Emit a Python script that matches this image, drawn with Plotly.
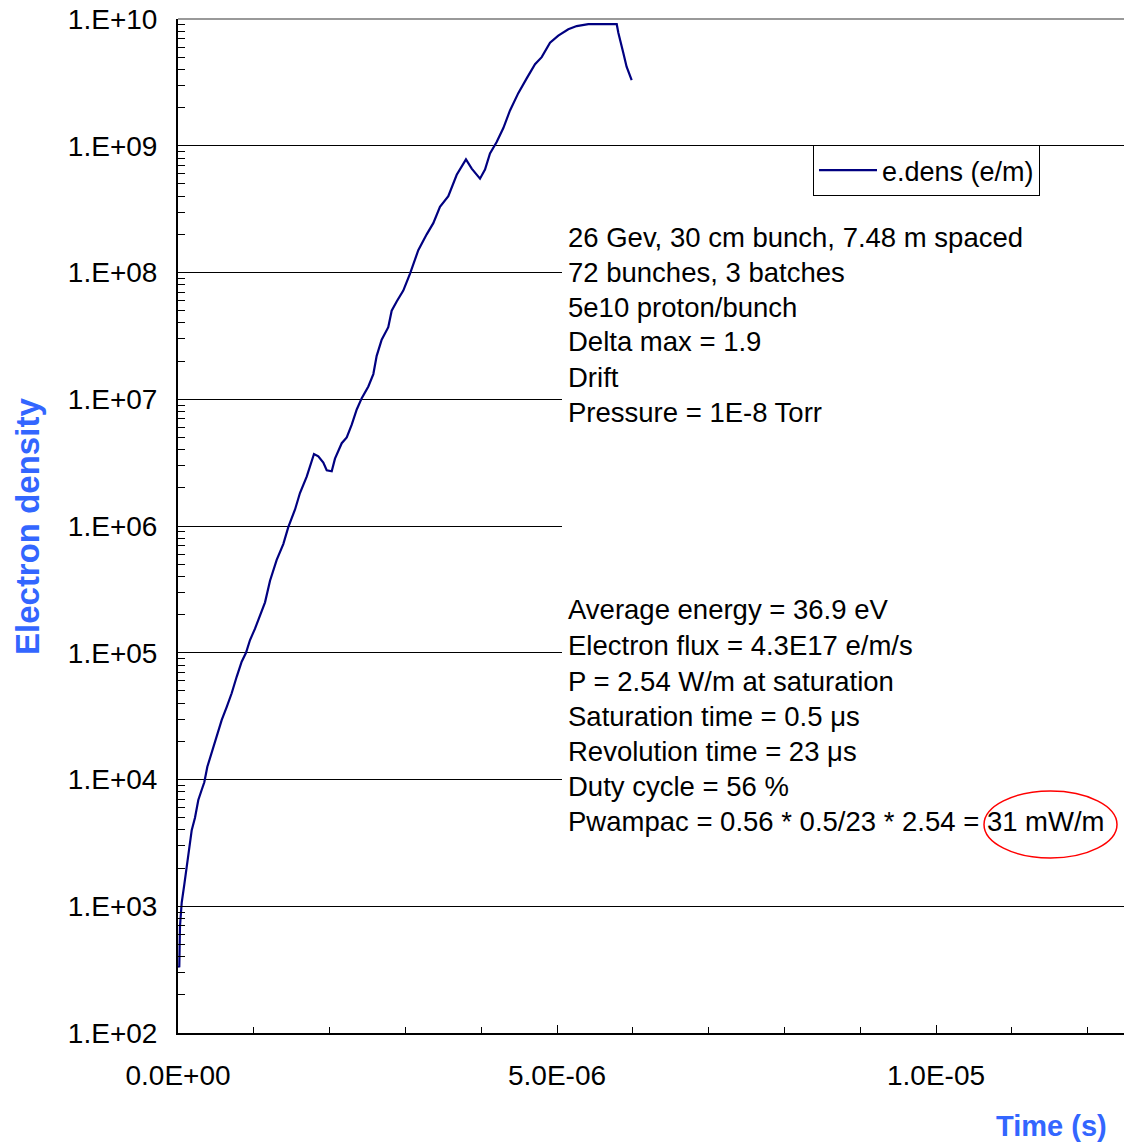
import plotly.graph_objects as go

# ---- data ----
time_us = [0.005, 0.017, 0.026, 0.049, 0.083, 0.115, 0.149, 0.181, 0.224, 0.268, 0.313, 0.347,
           0.387, 0.445, 0.511, 0.577, 0.642, 0.708, 0.774, 0.840, 0.897, 0.950, 1.016,
           1.082, 1.148, 1.214, 1.302, 1.389, 1.455, 1.544, 1.609, 1.698, 1.741, 1.794,
           1.851, 1.917, 1.962, 2.028, 2.071, 2.160, 2.226, 2.292, 2.358, 2.424, 2.511,
           2.577, 2.621, 2.687, 2.774, 2.819, 2.885, 2.972, 3.061, 3.170, 3.281, 3.368,
           3.456, 3.566, 3.677, 3.743, 3.799, 3.875, 3.984, 4.050, 4.116, 4.204, 4.292,
           4.380, 4.489, 4.600, 4.710, 4.798, 4.908, 5.017, 5.149, 5.260, 5.413, 5.788,
           5.809, 5.875, 5.918, 5.985]
e_density = [340, 331, 692, 1.07e3, 1.48e3, 2.0e3, 2.75e3, 3.98e3, 5.0e3, 6.9e3, 8.3e3, 9.5e3,
             1.26e4, 1.62e4, 2.19e4, 2.95e4, 3.72e4, 4.79e4, 6.46e4, 8.5e4, 1.0e5, 1.26e5, 1.55e5,
             2.0e5, 2.5e5, 3.7e5, 5.4e5, 7.2e5, 9.8e5, 1.35e6, 1.82e6, 2.45e6, 2.95e6, 3.7e6,
             3.55e6, 3.16e6, 2.75e6, 2.7e6, 3.4e6, 4.5e6, 5.0e6, 6.3e6, 8.3e6, 1.02e7, 1.26e7,
             1.58e7, 2.2e7, 2.95e7, 3.7e7, 5.0e7, 5.9e7, 7.2e7, 9.8e7, 1.5e8, 2.0e8, 2.45e8,
             3.3e8, 4.0e8, 5.9e8, 6.8e8, 7.8e8, 6.6e8, 5.5e8, 6.5e8, 8.7e8, 1.07e9, 1.38e9,
             1.9e9, 2.6e9, 3.4e9, 4.4e9, 5.0e9, 6.5e9, 7.4e9, 8.3e9, 8.8e9, 9.1e9, 9.1e9,
             7.8e9, 5.4e9, 4.2e9, 3.3e9]
time_s = [t * 1e-6 for t in time_us]

series_name = "e.dens (e/m)"
y_tickvals = [1e2, 1e3, 1e4, 1e5, 1e6, 1e7, 1e8, 1e9, 1e10]
y_ticktext = ["1.E+02", "1.E+03", "1.E+04", "1.E+05", "1.E+06", "1.E+07", "1.E+08", "1.E+09", "1.E+10"]
x_tickvals = [0, 5e-6, 1e-5]
x_ticktext = ["0.0E+00", "5.0E-06", "1.0E-05"]

info_top = ["26 Gev, 30 cm bunch, 7.48 m spaced", "72 bunches, 3 batches", "5e10 proton/bunch",
            "Delta max = 1.9", "Drift", "Pressure = 1E-8 Torr"]
info_bottom = ["Average energy = 36.9 eV", "Electron flux = 4.3E17 e/m/s",
               "P = 2.54 W/m at saturation", "Saturation time = 0.5 μs",
               "Revolution time = 23 μs", "Duty cycle = 56 %",
               "Pwampac = 0.56 * 0.5/23 * 2.54 = 31 mW/m"]

# ---- layout geometry (page pixels; body margin removed by post_script) ----
W, H = 1124, 1143
L, R, T = 178, 0, 19
B = H - 1033
PW, PH = W - L - R, H - T - B

def px(x):
    return (x - L) / PW

def py(y):
    return (H - B - y) / PH

FONT = "Arial, Liberation Sans, sans-serif"
BLUE = "#3366FF"

fig = go.Figure()
fig.add_trace(go.Scatter(x=time_s, y=e_density, mode="lines", name=series_name,
                         line=dict(color="#000080", width=2.2)))

minor_y = [m * 10 ** e for e in range(2, 10) for m in range(2, 10)]

fig.update_layout(
    width=W, height=H,
    margin=dict(l=L, r=R, t=T, b=B, autoexpand=False),
    paper_bgcolor="white", plot_bgcolor="white",
    font=dict(family=FONT, size=27, color="black"),
    showlegend=True,
    legend=dict(x=px(813), y=py(145), xanchor="left", yanchor="top",
                bgcolor="white", bordercolor="black", borderwidth=1,
                font=dict(size=27), itemwidth=58),
    xaxis=dict(range=[0, 12.48e-6], showline=True, linecolor="black", linewidth=2,
               showgrid=False, zeroline=False, automargin=False,
               tickmode="array", tickvals=x_tickvals, ticktext=x_ticktext,
               ticks="inside", ticklen=8, tickcolor="black", tickwidth=1,
               tickfont=dict(size=28), ticklabelstandoff=16,
               minor=dict(tickmode="linear", tick0=0, dtick=1e-6, ticks="inside",
                          ticklen=6, tickcolor="black", showgrid=False)),
    yaxis=dict(type="log", range=[2, 10], showline=True, linecolor="black", linewidth=2,
               showgrid=True, gridcolor="black", gridwidth=1, zeroline=False, automargin=False,
               tickmode="array", tickvals=y_tickvals, ticktext=y_ticktext,
               ticks="inside", ticklen=8, tickcolor="black", tickwidth=1,
               tickfont=dict(size=28), ticklabelstandoff=13,
               ticklabeloverflow="allow",
               minor=dict(tickmode="array", tickvals=minor_y, ticks="inside",
                          ticklen=7, tickcolor="black", showgrid=False)),
)

shapes = [
    # white text panel hiding gridlines (trace never enters this area)
    dict(type="rect", xref="paper", yref="paper", x0=px(562), x1=1.0, y0=py(875), y1=py(200),
         fillcolor="white", line=dict(width=0), layer="above"),
    # grey top frame line
    dict(type="line", xref="paper", yref="paper", x0=0, x1=1, y0=1, y1=1,
         line=dict(color="#999999", width=2), layer="above"),
    # red ellipse
    dict(type="circle", xref="paper", yref="paper", x0=px(984), x1=px(1117),
         y0=py(858), y1=py(791), line=dict(color="#FF0000", width=1.5), layer="above"),
]
fig.update_layout(shapes=shapes)

annotations = []
top_y = [237, 272, 307, 342, 377, 412]
for txt, yy in zip(info_top, top_y):
    annotations.append(dict(text=txt, xref="paper", yref="paper", x=px(566), y=py(yy),
                            xanchor="left", yanchor="middle", showarrow=False,
                            font=dict(size=27.5)))
bot_y = [609, 645, 681, 716, 751, 786, 822]
for txt, yy in zip(info_bottom, bot_y):
    annotations.append(dict(text=txt, xref="paper", yref="paper", x=px(566), y=py(yy),
                            xanchor="left", yanchor="middle", showarrow=False,
                            font=dict(size=27.5)))
annotations.append(dict(text="<b>Electron density</b>", xref="paper", yref="paper",
                        x=px(27), y=py(527), textangle=-90, showarrow=False,
                        xanchor="center", yanchor="middle",
                        font=dict(size=33, color=BLUE)))
annotations.append(dict(text="<b>Time (s)</b>", xref="paper", yref="paper",
                        x=px(1051), y=py(1126), showarrow=False,
                        xanchor="center", yanchor="middle",
                        font=dict(size=29, color=BLUE)))
fig.update_layout(annotations=annotations)

fig.write_html("out.html",
               config={"displayModeBar": False},
               post_script="document.body.style.margin='0px';"
                           "document.body.style.overflow='hidden';")
